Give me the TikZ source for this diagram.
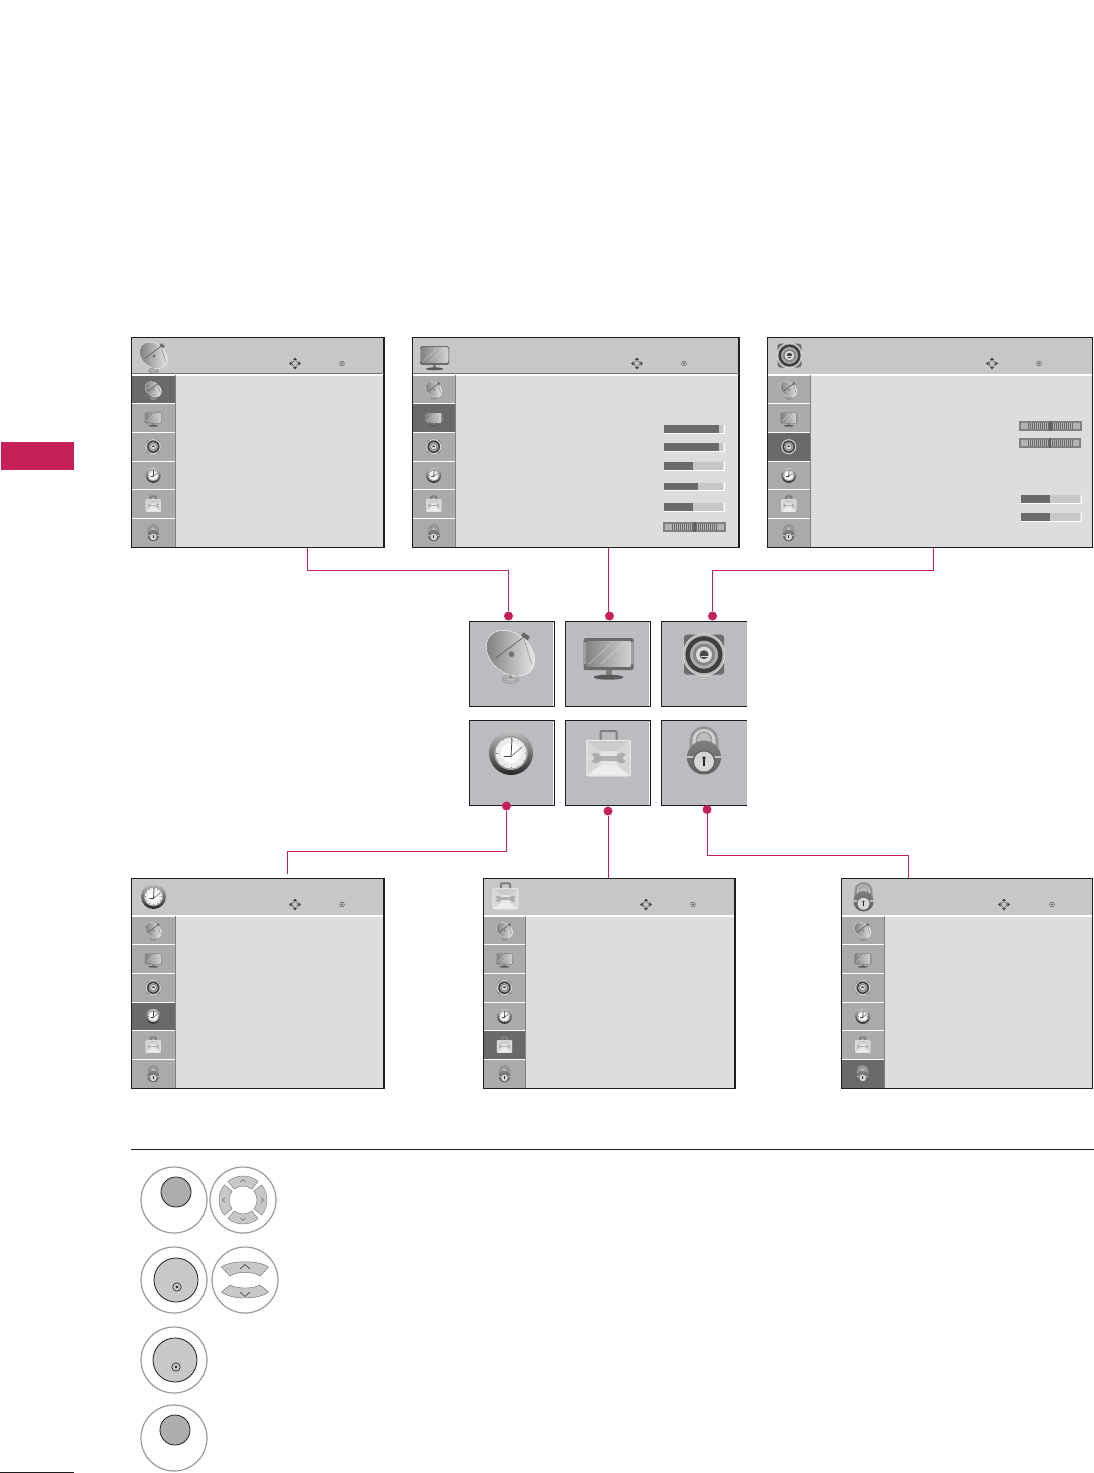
\documentclass[tikz,border=0pt]{standalone}
\usetikzlibrary{calc}
\definecolor{mag}{HTML}{C5205A}
\definecolor{ink}{HTML}{1E1E1E}
\definecolor{pbody}{HTML}{DCDDDF}
\definecolor{phead}{HTML}{C6C7C9}
\definecolor{pside}{HTML}{A9AAAC}
\definecolor{pact}{HTML}{6A6A6C}
\definecolor{ptile}{HTML}{BBBCC0}
\definecolor{ringc}{HTML}{9B9B9D}
\definecolor{keyd}{HTML}{ADADAF}
\definecolor{keyl}{HTML}{C8C8CA}
\tikzset{
  panelbox/.style={draw=ink,line width=1.2pt,fill=pbody,inner sep=0pt,outer sep=0pt},
  tilebox/.style={fill=ptile,inner sep=0pt,outer sep=0pt,minimum width=85pt,minimum height=85pt},
  dotnode/.style={circle,fill=mag,inner sep=0pt,minimum size=9pt},
  wire/.style={draw=mag,line width=.9pt},
  ringnode/.style={circle,draw=ringc,line width=1.2pt,fill=white,inner sep=0pt,minimum size=66pt},
  keydisc/.style={circle,draw=ink,line width=.8pt,inner sep=0pt},
  icnSat/.pic={
    \draw[black!42,line width=.6pt] (0,25) ellipse (8 and 3.2);
    \draw[black!42,line width=.6pt] (0,27.5) ellipse (8 and 2.8);
    \fill[black!45] (-1.5,17) rectangle (1.5,25);
    \fill[white,rotate=-40] (0,0) ellipse (27 and 20);
    \begin{scope}
      \clip[rotate=-40] (0,0) ellipse (26.5 and 19.5);
      \shade[left color=black!52,right color=black!8] (-27,-27) rectangle (27,27);
    \end{scope}
    \fill[black!55] (1,1) circle (2.8);
    \draw[black!65,line width=.6pt] (-15,5) -- (13,-16);
    \draw[black!40,line width=.6pt] (13,-16) -- (21,11);
    \fill[black!60,rotate around={-35:(15,-17)}] (11,-19) rectangle (19,-15);
  },
  icnTv/.pic={
    \fill[black!58,rounded corners=1.5pt] (-25,-16) rectangle (25,16);
    \fill[black!38] (-25,-12) rectangle (-22.5,10) (22.5,-12) rectangle (25,10);
    \shade[left color=black!48,right color=black!18] (-22,-13) rectangle (22,12);
    \draw[white!70!gray,line width=.3pt] (-20,10) -- (4,-12) (-8,10) -- (16,-12);
    \fill[black!50] (-3,16) rectangle (3,21);
    \fill[black!65] (0,23) ellipse (15 and 2.5);
  },
  icnSpk/.pic={
    \fill[black!58,rounded corners=3pt] (-20,-20) rectangle (20,20);
    \draw[black!10,line width=.6pt,fill=black!28] (0,0) circle (21);
    \fill[black!75] (0,0) circle (18.5);
    \fill[black!32] (0,0) circle (14);
    \fill[black!48] (0,0) circle (11);
    \fill[black!14] (0,0) circle (8);
    \fill[black!72] (0,0) circle (4.5);
    \fill[black!14] (-3.5,.8) rectangle (3.5,2.5);
  },
  icnClk/.pic={
    \shade[top color=black!25,bottom color=black!85] (0,0) circle (22);
    \fill[black!40] (0,0) circle (17);
    \fill[black!8] (0,0) circle (15.5);
    \fill[white] (0,0) circle (10);
    \foreach \a in {0,30,...,330} { \draw[black!50,line width=.35pt] (\a:13.5) -- (\a:15); }
    \draw[black!75,line width=.8pt,line cap=round] (-7,3.5) -- (0,3.5) -- (1,-14);
    \draw[black!60,line width=.6pt,line cap=round] (0,3.5) -- (11,-6);
  },
  icnCase/.pic={
    \draw[black!50,line width=2pt,rounded corners=1pt] (-8,-13) -- (-8,-23) -- (8,-23) -- (8,-13);
    \fill[black!10,rounded corners=1pt,draw=black!6,line width=.5pt] (-22,-14) rectangle (22,22);
    \fill[black!20] (-21,-13) -- (21,-13) -- (8,-3) -- (-8,-3) -- cycle;
    \fill[black!7] (-21,21) -- (21,21) -- (8,11) -- (-8,11) -- cycle;
    \fill[black!16] (-21,-13) -- (-8,-3) -- (-8,11) -- (-21,21) -- cycle;
    \fill[black!16] (21,-13) -- (8,-3) -- (8,11) -- (21,21) -- cycle;
    \fill[black!30] (-11,1.5) rectangle (11,6.5);
    \fill[black!32] (-13,4) circle (5.5) (13,4) circle (5.5);
    \fill[black!14] (-17.5,4) circle (3) (17.5,4) circle (3);
  },
  icnLck/.pic={
    \draw[black!42,line width=2.6pt,fill=black!18] (-13,4) -- (-13,-9) arc[start angle=180,end angle=360,radius=13] -- (13,4);
    \draw[black!38,line width=1.4pt,fill=ptile] (-7.5,-3) -- (-7.5,-10) arc[start angle=180,end angle=360,radius=7.5] -- (7.5,-3) -- cycle;
    \shade[top color=black!50,bottom color=black!62] (0,8) circle (17);
    \fill[black!25] (-16.8,6) rectangle (16.8,8.5);
    \fill[black!62] (0,12) circle (11.5);
    \fill[black!16] (0,12) circle (10);
    \fill[black!85] (0,8.5) circle (1.8);
    \fill[black!85] (-.8,8.5) rectangle (.8,16);
  },
  navpic/.pic={
    \draw[black!70,line width=.35pt] (0,0) circle (2.8);
    \fill[black!75] (0,-6) -- (-2.2,-3.3) -- (2.2,-3.3) -- cycle;
    \fill[black!75] (0,6) -- (-2.2,3.3) -- (2.2,3.3) -- cycle;
    \fill[black!75] (-6,0) -- (-3.3,-2.2) -- (-3.3,2.2) -- cycle;
    \fill[black!75] (6,0) -- (3.3,-2.2) -- (3.3,2.2) -- cycle;
  },
  okpic/.pic={
    \draw[black!75,line width=.35pt] (0,0) circle (2.4);
    \fill[black!75] (0,0) circle (.9);
  },
  okbig/.pic={
    \draw[ink,line width=.6pt] (0,0) circle (4.2);
    \fill[ink] (0,0) circle (1.3);
  },
}
% \menupanel{name}{x0}{y0}{x1}{sideR}{active}{headicon}{headscale}{navx}{okx}
\newcommand{\menupanel}[9]{%
  \def\pname{#1}\def\xa{#2}\def\ya{#3}\def\xb{#4}\def\xs{#5}\def\act{#6}\def\hic{#7}\def\hsc{#8}\def\navx{#9}%
  \menupanelb}
\newcommand{\menupanelb}[1]{%
  \pgfmathsetmacro\yb{\ya+210}
  \pgfmathsetmacro\pwd{\xb-\xa}
  \node[panelbox,anchor=north west,minimum width=\pwd pt,minimum height=210pt] (\pname) at (\xa,\ya) {};
  \fill[phead] (\xa+.6,\ya+.6) rectangle (\xb-.6,\ya+36);
  \fill[white] (\xa+.6,\ya+36) rectangle (\xb-.6,\ya+38);
  \fill[white] (\xa+.6,\ya+38) rectangle (\xs,\yb-.6);
  \foreach \r/\ic in {0/icnSat,1/icnTv,2/icnSpk,3/icnClk,4/icnCase,5/icnLck} {
    \pgfmathsetmacro\rt{\ya+38+\r*28.7}
    \pgfmathsetmacro\rb{\rt+27.6}
    \ifnum\r=\act\relax
      \fill[pact] (\xa+.6,\rt) rectangle (\xs,\rb);
    \else
      \fill[pside] (\xa+.6,\rt) rectangle (\xs,\rb);
    \fi
    \pic[scale=.34] at ({(\xa+\xs)/2},{\rt+13.8}) {\ic};
  }
  \draw[black!50,line width=.9pt] (\xs,\ya+37) -- (\xs,\yb-.6);
  \draw[ink,line width=1.2pt] (\xa,\ya) rectangle (\xb,\yb);
  \pic[scale=\hsc] at (\xa+22,\ya+18) {\hic};
  \pic at (\navx,\ya+26) {navpic};
  \pic at (#1,\ya+26) {okpic};
}
\newcommand{\lvbar}[4]{% x0,y0,x1,xfill
  \fill[black!22] (#1,#2) rectangle (#3,#2+8);
  \fill[pact] (#1,#2) rectangle (#4,#2+8);
  \draw[white,line width=.9pt] (#1,#2+8.4) -- (#3+1,#2+8.4) -- (#3+1,#2-.5);
}
\newcommand{\balbar}[3]{% x0,y0,x1
  \fill[black!50] (#1,#2) rectangle (#3,#2+10);
  \fill[black!30] (#1+2,#2+2) rectangle (#3-2,#2+8);
  \foreach \k in {0,...,22} { \fill[black!58] ({#1+8.5+\k*2},#2+2) rectangle ({#1+9.4+\k*2},#2+8); }
  \fill[black!62] ({(#1+#3)/2-1.2},#2) rectangle ({(#1+#3)/2+1.2},#2+10);
}
\newcommand{\arcseg}[5]{% cx,cy,rin,rout, start, end via #5={a}{b}
  \def\cxx{#1}\def\cyy{#2}\def\rii{#3}\def\roo{#4}\arcsegb#5}
\def\arcsegb#1#2{%
  \filldraw[fill=keyl,draw=black!55,line width=.4pt]
   ($(\cxx,\cyy)+(#1:\roo)$) arc[start angle=#1,end angle=#2,radius=\roo]
   -- ($(\cxx,\cyy)+(#2:\rii)$) arc[start angle=#2,end angle=#1,radius=\rii] -- cycle;}
\begin{document}
\begin{tikzpicture}[x=1pt,y=-1pt]
\useasboundingbox (0,0) rectangle (1094,1473);
\fill[white] (0,0) rectangle (1094,1473);
% section tab and foot rule
\node[fill=mag,inner sep=0pt,anchor=north west,minimum width=73pt,minimum height=28pt] (tab) at (1,442) {};
\coordinate (ruleA) at (0,1472.5);
\coordinate (ruleB) at (74,1472.5);
\draw[ink,line width=.8pt] (ruleA) -- (ruleB);
% menu panels
\menupanel{p1}{131.5}{337.5}{384}{175}{0}{icnSat}{.58}{295}{342}
\menupanel{p2}{412.5}{337.5}{739}{455}{1}{icnTv}{.58}{637}{684}
\menupanel{p3}{767.5}{337.5}{1092.5}{810}{2}{icnSpk}{.6}{992}{1039}
\menupanel{p4}{131.5}{878.5}{384}{175}{3}{icnClk}{.57}{295}{342}
\menupanel{p5}{483.5}{878.5}{735}{525.5}{4}{icnCase}{.57}{646}{693}
\menupanel{p6}{841.5}{878.5}{1092.5}{884}{5}{icnLck}{.6}{1004}{1052}
\draw[black!55,line width=.8pt] (132,373.2) -- (383.5,373.2) (413,373.2) -- (738.5,373.2);
% sliders
\lvbar{664}{425}{723}{719}
\lvbar{664}{443}{723}{719}
\lvbar{664}{462}{723}{693}
\lvbar{664}{482.5}{723}{698}
\lvbar{664}{503}{723}{693}
\balbar{663}{522}{726}
\balbar{1019}{421}{1082}
\balbar{1019}{438}{1081}
\lvbar{1021}{495}{1080}{1050}
\lvbar{1021}{513}{1080}{1050}
% tiles
\foreach \nm/\cx/\cy/\ic/\ox/\oy in {t1/512/664.2/icnSat/-1.5/-11,t2/608/664.2/icnTv/0.5/-10,t4/512/763/icnClk/-1/-10,t5/608/763/icnCase/0.5/-9}{
  \node[tilebox] (\nm) at (\cx,\cy) {};
  \draw[ink,line width=.8pt] (\nm.north east) -- (\nm.north west) -- (\nm.south west) -- (\nm.south east) -- cycle;
  \draw[white,line width=.8pt] ($(\nm.north east)+(-1.2,1)$) -- ($(\nm.south east)+(-1.2,-1)$);
  \pic at ($(\nm)+(\ox,\oy)$) {\ic};
}
\foreach \nm/\cx/\cy/\ic/\ox/\oy in {t3/704/664.2/icnSpk/0/-9.5,t6/704/763/icnLck/0/-13.5}{
  \node[tilebox] (\nm) at (\cx,\cy) {};
  \draw[ink,line width=.8pt] (\nm.north east) -- (\nm.north west) -- (\nm.south west) -- (\nm.south east);
  \pic at ($(\nm)+(\ox,\oy)$) {\ic};
}
% dots
\node[dotnode] (d1) at (508.5,616) {};
\node[dotnode] (d2) at (609.5,616) {};
\node[dotnode] (d3) at (712.5,616) {};
\node[dotnode] (d4) at (506.5,806) {};
\node[dotnode] (d5) at (608,811) {};
\node[dotnode] (d6) at (707,809.5) {};
% ports
\coordinate (o1) at (307,548);
\coordinate (o2) at (608,548);
\coordinate (o3) at (933,548);
\coordinate (o4) at (287,874);
\coordinate (o5) at (608,878);
\coordinate (o6) at (908.5,878);
\draw[wire] (o1) -- ++(0,22) -| (d1);
\draw[wire] (o2) -- (o2 |- d2);
\draw[wire] (o3) -- ++(0,22) -| (d3);
\draw[wire] (o4) -- ++(0,-23) -| (d4);
\draw[wire] (o5) -- (d5);
\draw[wire] (o6) -- ++(0,-23) -| (d6);
% separator
\coordinate (sepA) at (131,1149.5);
\coordinate (sepB) at (1094,1149.5);
\draw[ink,line width=.8pt] (sepA) -- (sepB);
% buttons
\node[ringnode] (b1) at (174,1200) {};
\node[keydisc,fill=keyd,minimum size=30pt] (b1k) at (176,1192) {};
\node[ringnode] (b2) at (243,1200) {};
\arcseg{243}{1200}{14}{24}{{-129}{-51}}
\arcseg{243}{1200}{14}{24}{{-39}{39}}
\arcseg{243}{1200}{14}{24}{{51}{129}}
\arcseg{243}{1200}{14}{24}{{141}{219}}
\draw[black!60,line width=.45pt]
  (240.5,1182) -- (243,1179.5) -- (245.5,1182)
  (240.5,1218) -- (243,1220.5) -- (245.5,1218)
  (225,1197.5) -- (222.5,1200) -- (225,1202.5)
  (261,1197.5) -- (263.5,1200) -- (261,1202.5);
\node[ringnode] (b3) at (174,1280) {};
\node[keydisc,fill=keyl,minimum size=44pt] (b3k) at (176,1280) {};
\pic at (177,1287) {okbig};
\node[ringnode] (b4) at (245,1280) {};
\begin{scope}
 \filldraw[fill=keyl,draw=black!60,line width=.4pt] (221.5,1267) .. controls (231,1260) and (259,1260) .. (268.5,1267) -- (260,1276) .. controls (253,1271) and (237,1271) .. (230,1276) -- cycle;
 \filldraw[fill=keyl,draw=black!60,line width=.4pt] (221.5,1292) .. controls (231,1300) and (259,1300) .. (268.5,1292) -- (260,1285) .. controls (253,1289) and (237,1289) .. (230,1285) -- cycle;
 \draw[ink,line width=.5pt] (240,1269) -- (245,1264.5) -- (250,1269) (240,1292) -- (245,1296.5) -- (250,1292);
\end{scope}
\node[ringnode] (b5) at (174,1360) {};
\node[keydisc,fill=keyl,minimum size=44pt] (b5k) at (175,1360) {};
\pic at (176,1367) {okbig};
\node[ringnode] (b6) at (174,1438) {};
\node[keydisc,fill=keyd,minimum size=30pt] (b6k) at (175,1430) {};
\end{tikzpicture}
\end{document}
